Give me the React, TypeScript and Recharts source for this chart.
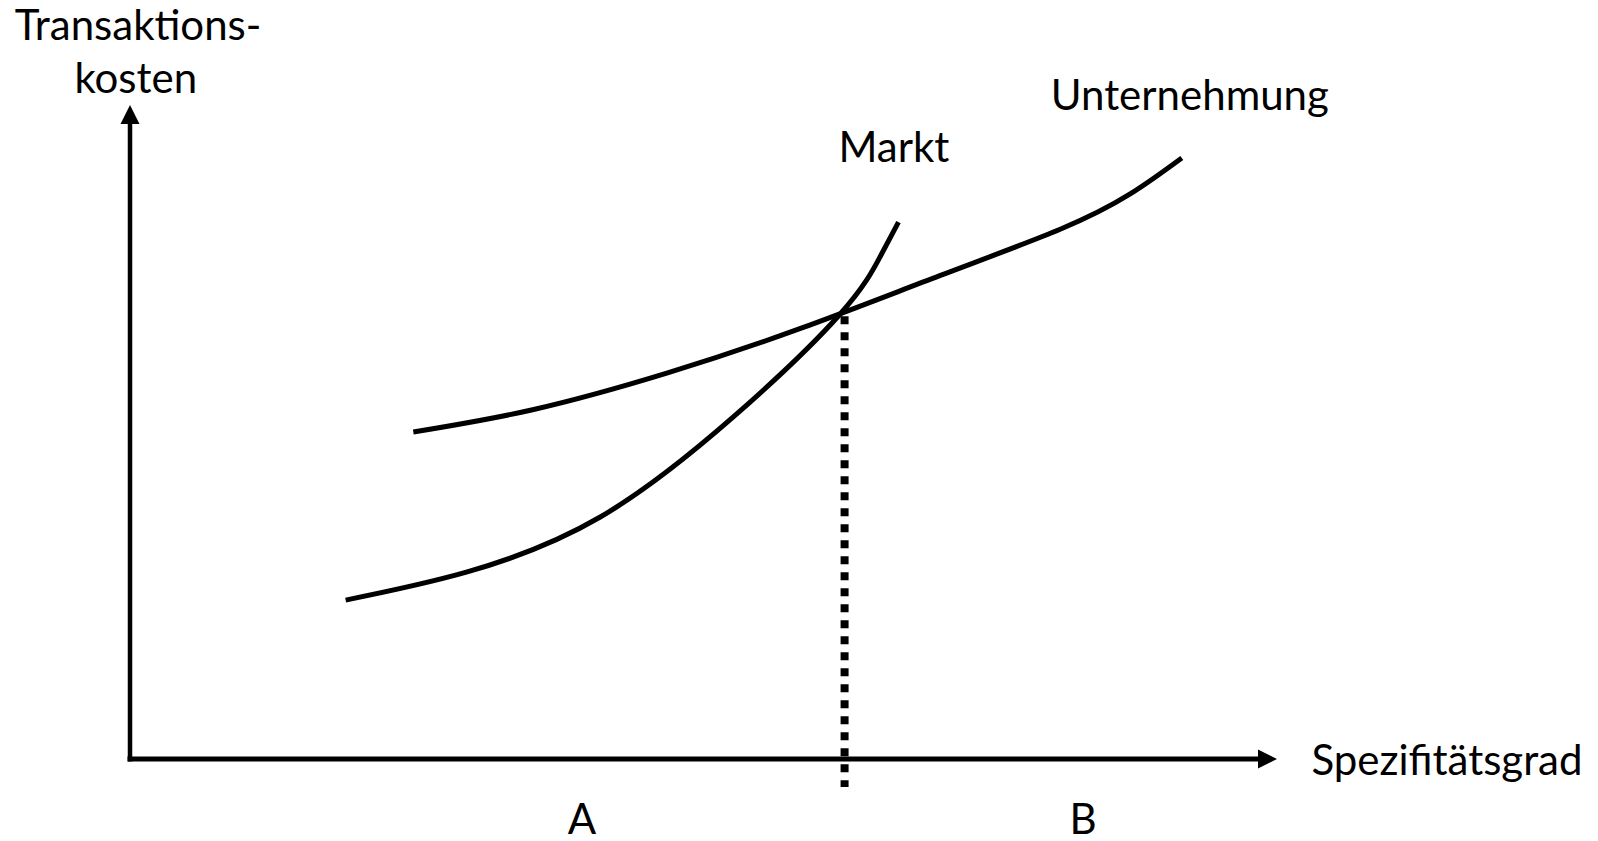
import { LineChart, Line, XAxis, YAxis, ReferenceLine, ReferenceDot } from "recharts";

// Spezifitätsgrad (x) vs. Transaktionskosten (y), both on a 0..100 scale
const unternehmungX = [24.7, 35.1, 46.8, 58.4, 70.6, 81.1, 87.2, 91.7];
const unternehmungY = [50.0, 53.4, 59.0, 65.8, 73.9, 81.0, 86.4, 91.9];

const marktX = [18.8, 29.4, 41.0, 52.6, 61.9, 65.4, 67.0];
const marktY = [24.3, 28.6, 37.0, 52.3, 68.0, 76.8, 82.1];

// dotted drop line from the intersection down past the x axis
const schwelleX = 62.3;
const schwelleY = [67.7, -4.3];

const labelText = ["Transaktions-", "kosten", "Unternehmung", "Markt", "Spezifitätsgrad", "A", "B"];
const labelX = [0.7, 0.5, 92.4, 66.6, 103.0, 39.4, 83.1];
const labelY = [109.9, 101.8, 99.2, 91.3, -2.4, -11.5, -11.5];
const labelAnchor = ["middle", "middle", "middle", "middle", "start", "middle", "middle"];

const unternehmung = unternehmungX.map((x, i) => ({ x, y: unternehmungY[i] }));
const markt = marktX.map((x, i) => ({ x, y: marktY[i] }));

const FONT = "Lato, 'Open Sans', sans-serif";

function arrowAxis(width: number) {
  return (p: any) => {
    const { x1, y1, x2, y2 } = p;
    const dx = x2 - x1;
    const dy = y2 - y1;
    const len = Math.hypot(dx, dy) || 1;
    const ux = dx / len;
    const uy = dy / len;
    const head = 19;
    const half = 9.5;
    const bx = x2 - ux * head;
    const by = y2 - uy * head;
    const nx = -uy;
    const ny = ux;
    return (
      <g>
        <line
          x1={x1 - ux * 2.5}
          y1={y1 - uy * 2.5}
          x2={bx + ux}
          y2={by + uy}
          stroke="#000"
          strokeWidth={width}
        />
        <polygon
          points={`${x2},${y2} ${bx + nx * half},${by + ny * half} ${bx - nx * half},${by - ny * half}`}
          fill="#000"
        />
      </g>
    );
  };
}

export default function App() {
  return (
    <div style={{ position: "absolute", left: 0, top: 0, width: 1598, height: 841, background: "#fff" }}>
      <LineChart
        width={1598}
        height={841}
        margin={{ top: 105, right: 321, bottom: 82, left: 130 }}
      >
        <XAxis type="number" dataKey="x" domain={[0, 100]} allowDataOverflow hide />
        <YAxis type="number" dataKey="y" domain={[0, 100]} allowDataOverflow hide />

        <ReferenceLine
          segment={[{ x: 0, y: 0 }, { x: 0, y: 100 }]}
          ifOverflow="visible"
          shape={arrowAxis(4.5)}
        />
        <ReferenceLine
          segment={[{ x: 0, y: 0 }, { x: 100, y: 0 }]}
          ifOverflow="visible"
          shape={arrowAxis(5)}
        />
        <ReferenceLine
          segment={[{ x: schwelleX, y: schwelleY[0] }, { x: schwelleX, y: schwelleY[1] }]}
          ifOverflow="visible"
          stroke="#000"
          strokeWidth={8}
          strokeDasharray="8 8"
        />

        <Line
          data={unternehmung}
          dataKey="y"
          type="natural"
          stroke="#000"
          strokeWidth={5}
          dot={false}
          activeDot={false}
          isAnimationActive={false}
        />
        <Line
          data={markt}
          dataKey="y"
          type="natural"
          stroke="#000"
          strokeWidth={5}
          dot={false}
          activeDot={false}
          isAnimationActive={false}
        />

        {labelText.map((t, i) => (
          <ReferenceDot
            key={t}
            x={labelX[i]}
            y={labelY[i]}
            ifOverflow="visible"
            shape={(p: any) => (
              <text
                x={p.cx}
                y={p.cy}
                textAnchor={labelAnchor[i] as any}
                fontFamily={FONT}
                fontSize={42}
                fill="#000"
              >
                {t}
              </text>
            )}
          />
        ))}
      </LineChart>
    </div>
  );
}
